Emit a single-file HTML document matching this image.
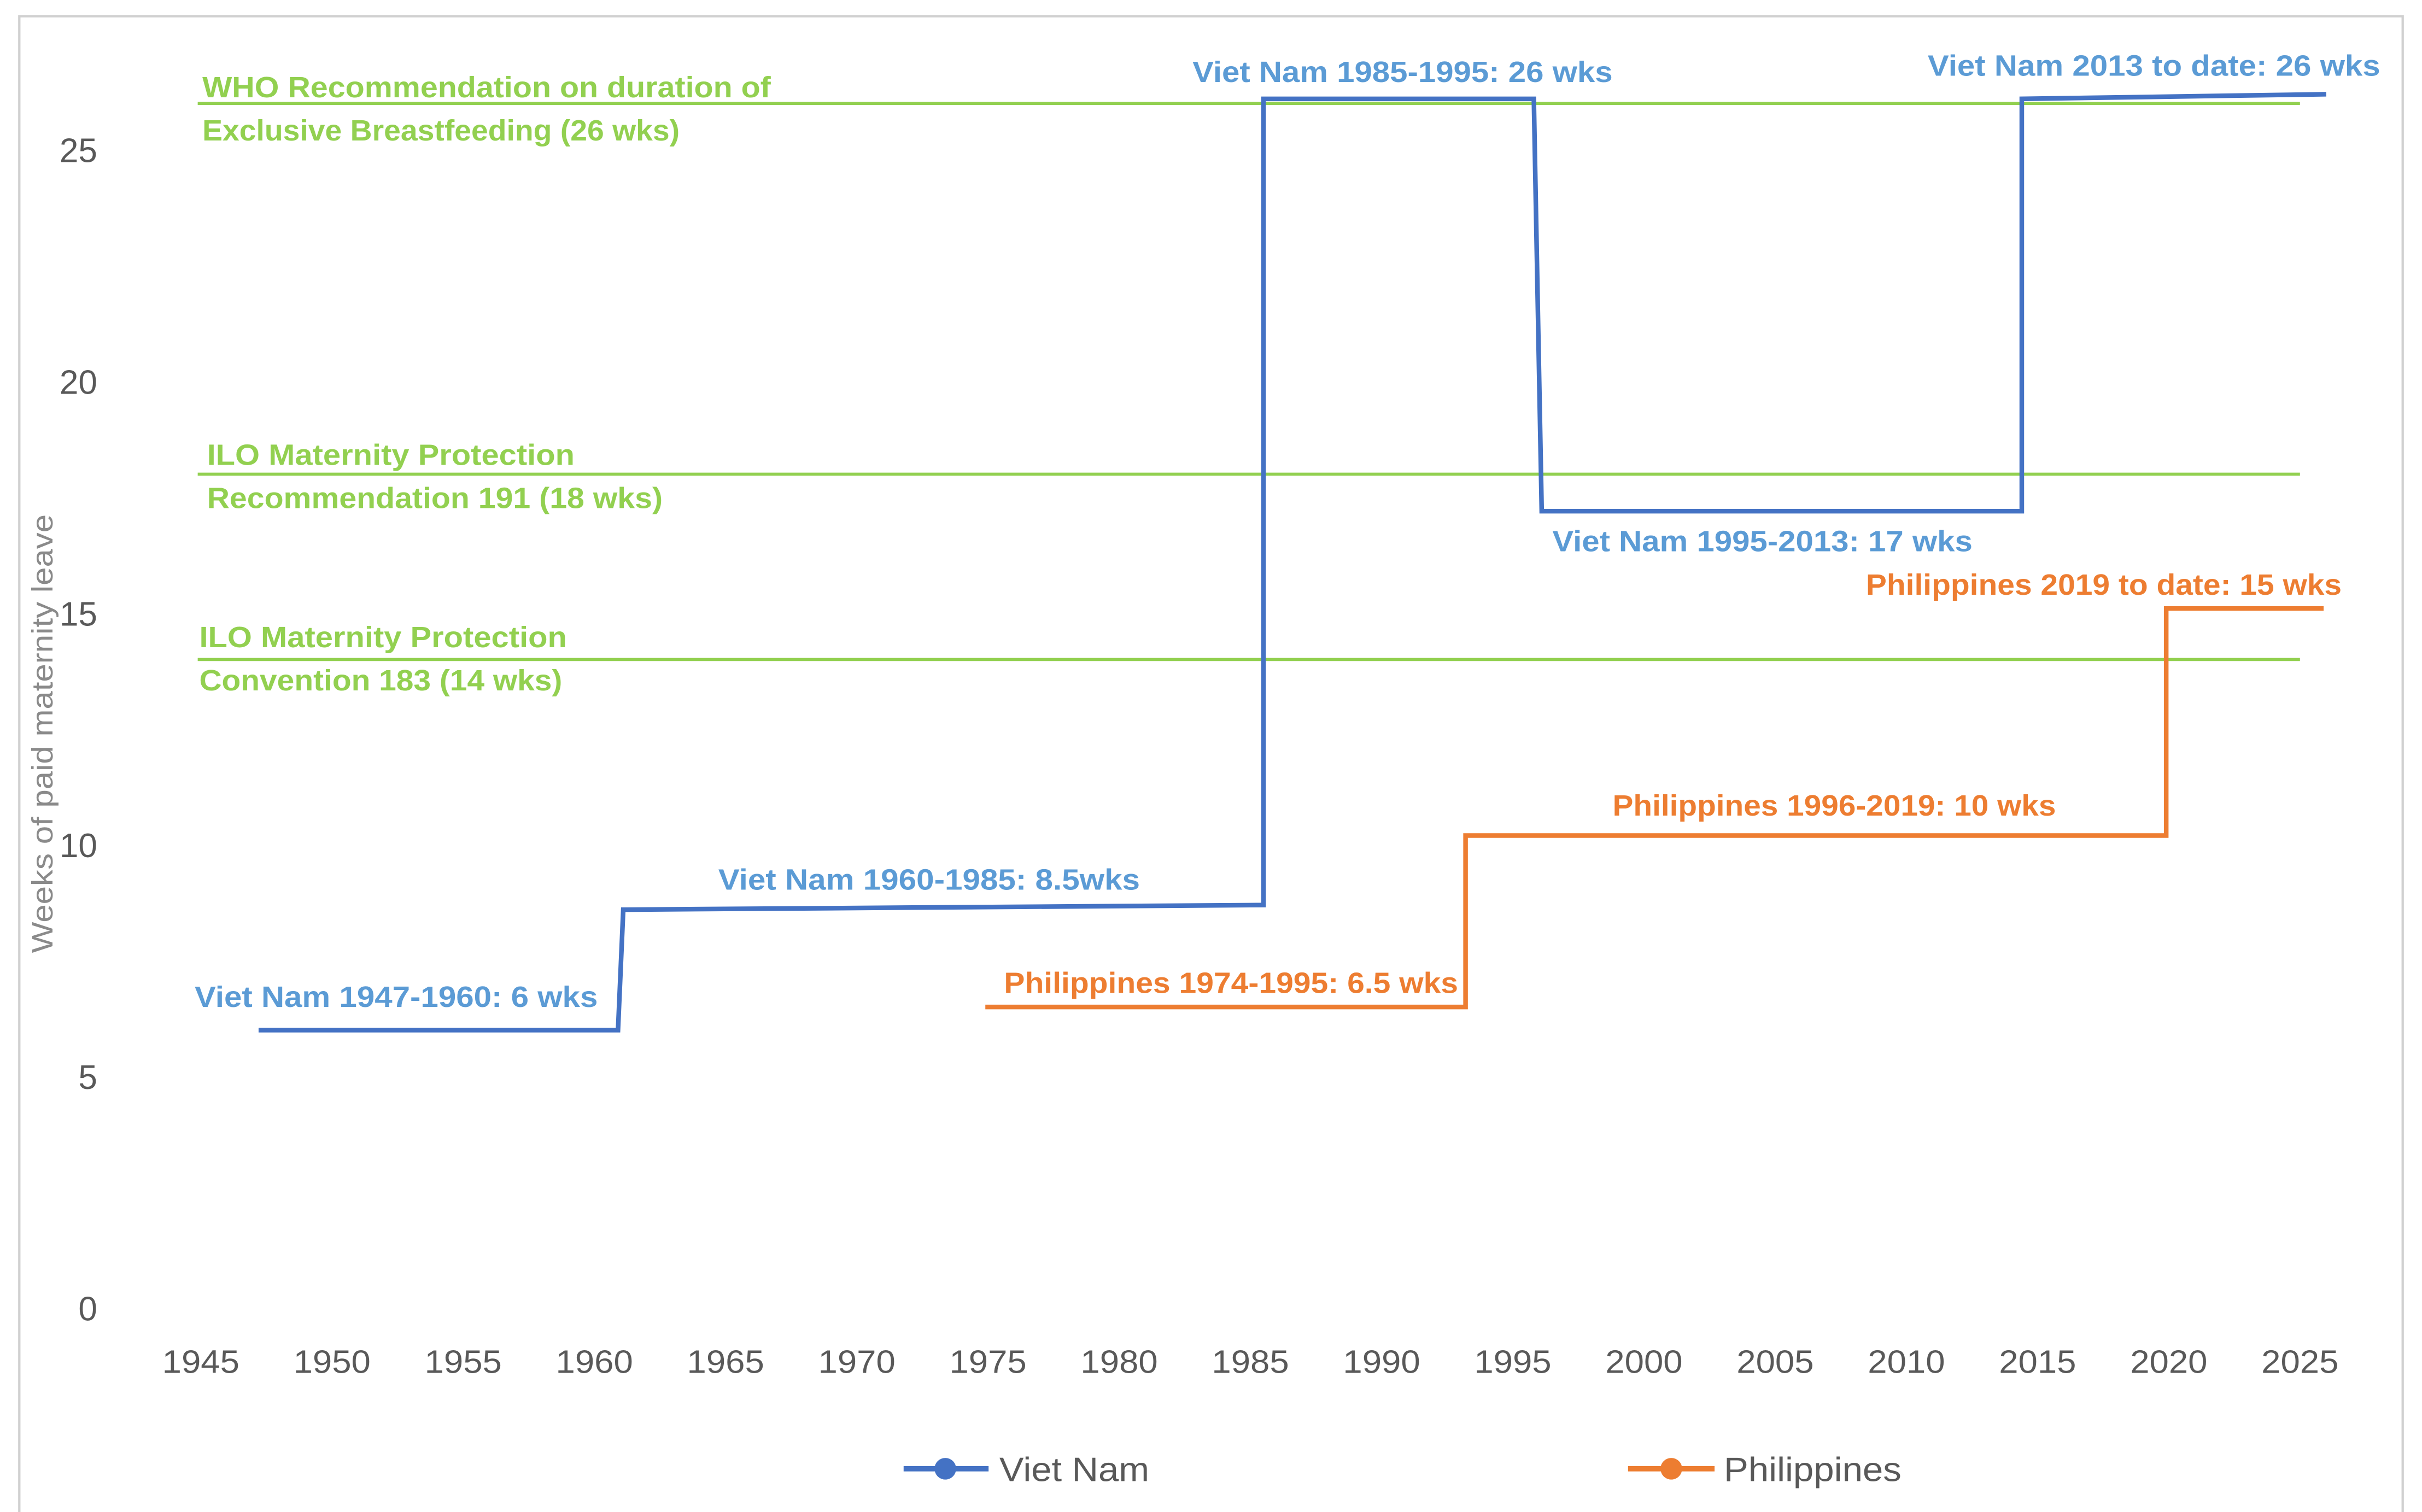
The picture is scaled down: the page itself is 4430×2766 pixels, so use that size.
<!DOCTYPE html>
<html><head><meta charset="utf-8"><style>
html,body{margin:0;padding:0;background:#fff;}
svg{display:block;}
text{font-family:"Liberation Sans",sans-serif;}
</style></head><body>
<svg id="chart" width="4430" height="2766" viewBox="0 0 1568 979" xmlns="http://www.w3.org/2000/svg">
<rect width="1568" height="979" fill="#fff"/>
<path d="M12.5 979 V10.5 H1555.5 V979" fill="none" stroke="#d0d0d0" stroke-width="1.5"/>
<g id="axes"></g>
<g id="refs"></g>
<g id="series"></g>
<g id="labels"></g>
<text transform="translate(34,475) rotate(-90)" text-anchor="middle" font-size="19" fill="#8a8a8a" textLength="284" lengthAdjust="spacingAndGlyphs">Weeks of paid maternity leave</text>
<g>
<g>
<line x1="585" y1="951" x2="640" y2="951" stroke="#4472c4" stroke-width="3.5"/>
<circle cx="612" cy="951" r="7" fill="#4472c4"/>
<text x="647" y="959" font-size="22" fill="#595959" textLength="97" lengthAdjust="spacingAndGlyphs">Viet Nam</text>
</g>
<g>
<line x1="1054" y1="951" x2="1110" y2="951" stroke="#ed7d31" stroke-width="3.5"/>
<circle cx="1082" cy="951" r="7" fill="#ed7d31"/>
<text x="1116" y="959" font-size="22" fill="#595959" textLength="115" lengthAdjust="spacingAndGlyphs">Philippines</text>
</g>
</g>
</svg>
<script>
const xTicks = [1945,1950,1955,1960,1965,1970,1975,1980,1985,1990,1995,2000,2005,2010,2015,2020,2025];
const yTicks = [0,5,10,15,20,25];
const refValues = [26,18,14];
const vnYears = [1947.2,1960.9,1961.1,1985.5,1985.5,1995.8,1996.1,2014.4,2014.4,2026];
const vnValues = [6,6,8.6,8.7,26.1,26.1,17.2,17.2,26.1,26.2];
const phYears = [1974.9,1993.2,1993.2,2019.9,2019.9,2025.9];
const phValues = [6.5,6.5,10.2,10.2,15.1,15.1];

const NS='http://www.w3.org/2000/svg';
function xs(yr){return 130+(1489-130)*(yr-1945)/80;}
function ys(v){return 847-30*v;}
function el(tag,attrs,parent,txt){const e=document.createElementNS(NS,tag);for(const k in attrs)e.setAttribute(k,attrs[k]);if(txt!==undefined)e.textContent=txt;parent.appendChild(e);return e;}
const axes=document.getElementById('axes');
xTicks.forEach(t=>{
  const e=el('text',{x:xs(t),y:889,'text-anchor':'middle','font-size':'21',fill:'#595959',textLength:'50',lengthAdjust:'spacingAndGlyphs'},axes,String(t));
  
  
});
yTicks.forEach(t=>{
  const e=el('text',{x:63,y:ys(t)+8,'text-anchor':'end','font-size':'22',fill:'#595959'},axes,String(t));
  
  
});
const refs=document.getElementById('refs');
refValues.forEach(v=>{
  const e=el('line',{x1:128,x2:1489,y1:ys(v),y2:ys(v),stroke:'#92d050','stroke-width':'2'},refs);
  
  
});
const series=document.getElementById('series');
function path(years,vals,color,name){
  const d=years.map((y,i)=>(i?'L':'M')+xs(y).toFixed(1)+' '+ys(vals[i]).toFixed(1)).join(' ');
  const e=el('path',{d:d,fill:'none',stroke:color,'stroke-width':'3'},series);
  
  
}
path(vnYears,vnValues,'#4472c4','viet-nam-line');
path(phYears,phValues,'#ed7d31','philippines-line');
const labels=document.getElementById('labels');
const lab=[
 ['WHO Recommendation on duration of',131,63,368,'#92d050','who-label'],
 ['Exclusive Breastfeeding (26 wks)',131,91,309,'#92d050','who-label'],
 ['ILO Maternity Protection',134,301,238,'#92d050','ilo-r191-label'],
 ['Recommendation 191 (18 wks)',134,329,295,'#92d050','ilo-r191-label'],
 ['ILO Maternity Protection',129,419,238,'#92d050','ilo-c183-label'],
 ['Convention 183 (14 wks)',129,447,235,'#92d050','ilo-c183-label'],
 ['Viet Nam 1947-1960: 6 wks',126,652,261,'#5b9bd5','vn-label'],
 ['Viet Nam 1960-1985: 8.5wks',465,576,273,'#5b9bd5','vn-label'],
 ['Viet Nam 1985-1995: 26 wks',772,53,272,'#5b9bd5','vn-label'],
 ['Viet Nam 2013 to date: 26 wks',1248,49,293,'#5b9bd5','vn-label'],
 ['Viet Nam 1995-2013: 17 wks',1005,357,272,'#5b9bd5','vn-label'],
 ['Philippines 2019 to date: 15 wks',1208,385,308,'#ed7d31','ph-label'],
 ['Philippines 1996-2019: 10 wks',1044,528,287,'#ed7d31','ph-label'],
 ['Philippines 1974-1995: 6.5 wks',650,643,294,'#ed7d31','ph-label']
];
lab.forEach(l=>{
  const e=el('text',{x:l[1],y:l[2],'font-size':'19','font-weight':'bold',fill:l[4],textLength:l[3],lengthAdjust:'spacingAndGlyphs'},labels,l[0]);
  
  
});
</script>
</body></html>
